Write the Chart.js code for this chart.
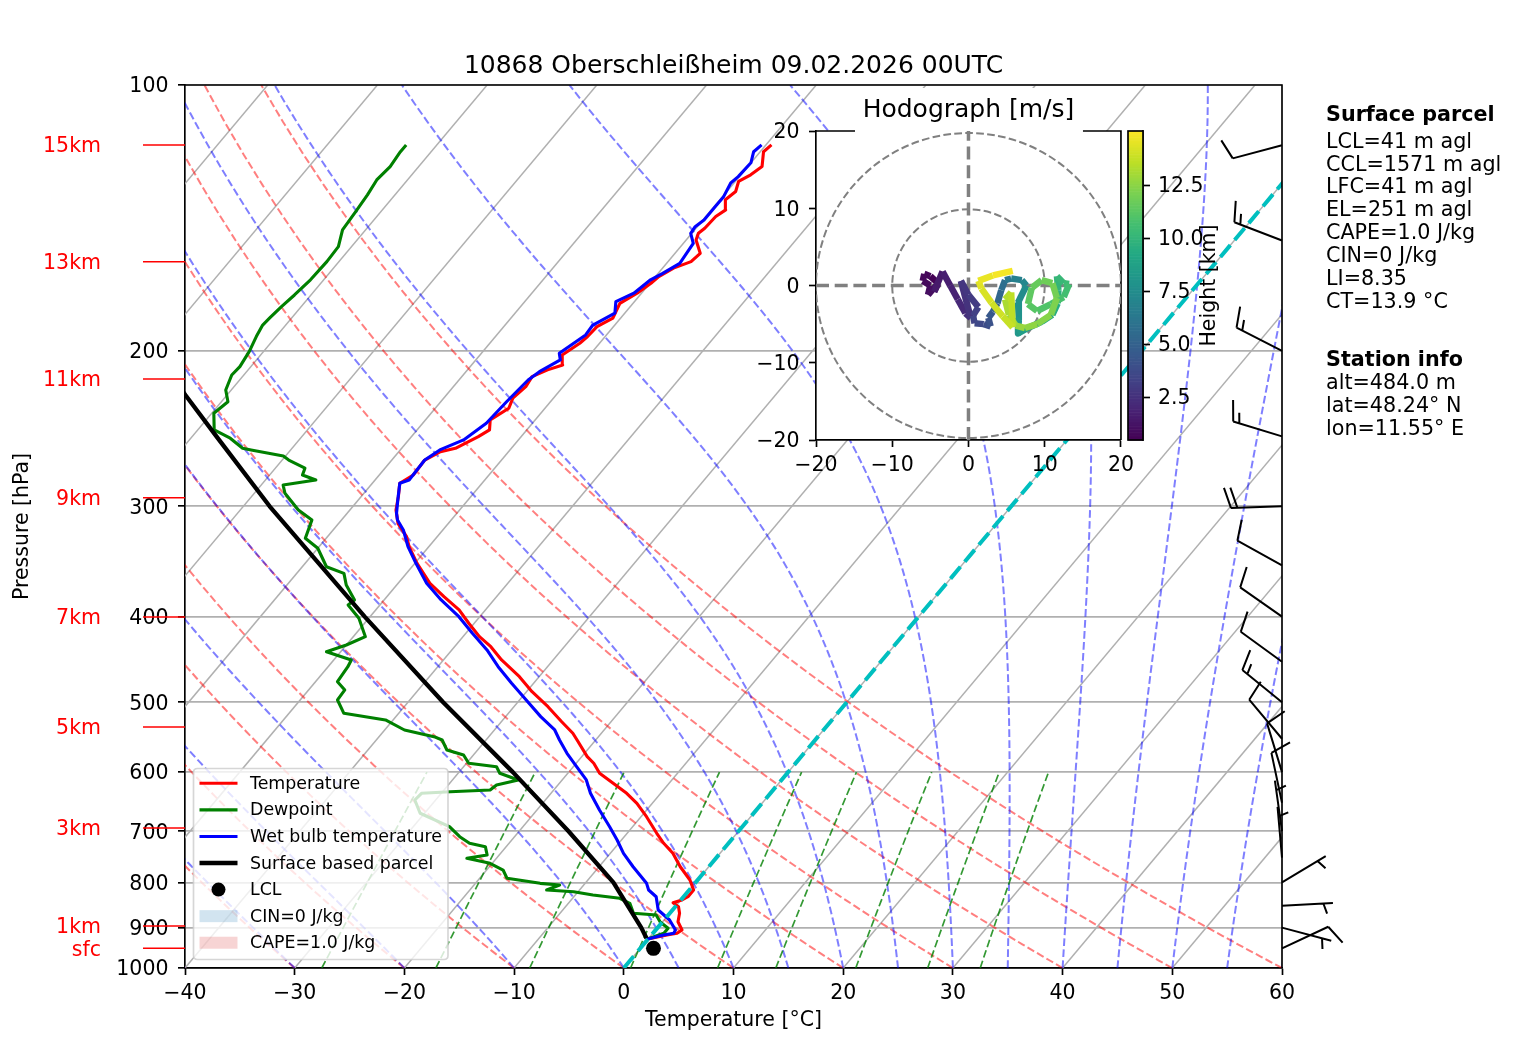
<!DOCTYPE html>
<html>
<head>
<meta charset="utf-8">
<script src="https://cdn.jsdelivr.net/npm/chart.js@4.4.1/dist/chart.umd.min.js"></script>
<style>
html,body{margin:0;padding:0;background:#fff;}
#wrap{position:relative;width:1517px;height:1054px;overflow:hidden;background:#fff;}
canvas{position:absolute;}
.info{position:absolute;left:1326px;font-family:'DejaVu Sans';font-size:20.7px;line-height:22.86px;color:#000;white-space:pre;}
.info.b{font-weight:bold;}
</style>
</head>
<body>
<div id="wrap">
<canvas id="main" width="1517" height="1054" style="left:0;top:0"></canvas>
<canvas id="hodo" width="400" height="420" style="left:740px;top:80px"></canvas>
<canvas id="cbar" width="160" height="420" style="left:1100px;top:80px"></canvas>
<div class="info b" style="top:103px">Surface parcel</div>
<div class="info" style="top:129.7px">LCL=41 m agl
CCL=1571 m agl
LFC=41 m agl
EL=251 m agl
CAPE=1.0 J/kg
CIN=0 J/kg
LI=8.35
CT=13.9 °C</div>
<div class="info b" style="top:348px">Station info</div>
<div class="info" style="top:371.4px">alt=484.0 m
lat=48.24° N
lon=11.55° E</div>
</div>
<script>
// ---------------- data ----------------
const chartTitle = '10868 Oberschleißheim 09.02.2026 00UTC';
const hodoTitle = 'Hodograph [m/s]';

const tempP = [927.9,917.5,913.5,905.6,886.3,867.1,852.3,843.5,837.5,830.4,816.0,795.0,767.9,741.5,722.4,703.8,674.0,650.9,634.1,617.7,601.8,586.3,576.3,551.8,542.2,526.1,505.9,486.5,467.8,447.9,432.6,421.5,407.0,393.1,379.7,366.7,348.1,333.3,324.7,313.6,302.9,292.6,282.5,276.5,265.9,260.2,257.9,250.2,245.8,239.5,232.3,226.3,219.6,213.9,210.2,207.5,202.2,196.1,192.7,187.8,183.7,176.7,172.1,167.7,164.8,161.2,158.5,155.1,149.8,147.2,145.3,140.9,138.5,134.9,132.0,128.6,126.4,123.7,119.0,116.9];
const tempC = [-0.1,1.4,2.2,2.4,1.4,0.9,0.3,-0.5,0.1,0.4,0.4,-0.7,-2.6,-4.3,-5.9,-7.3,-9.5,-11.4,-13.1,-15.1,-17.1,-18.4,-19.5,-21.7,-22.6,-24.5,-26.9,-29.5,-31.8,-34.7,-36.7,-38.5,-40.5,-42.4,-44.8,-47.1,-49.8,-51.8,-52.8,-54.6,-55.8,-56.6,-57.5,-56.9,-57.0,-56.2,-55.1,-53.9,-53.4,-54.1,-53.3,-53.7,-53.4,-53.6,-52.7,-51.7,-52.5,-51.8,-51.6,-51.5,-50.7,-51.2,-50.4,-49.9,-49.7,-49.0,-47.9,-47.7,-49.1,-49.4,-49.2,-49.1,-48.7,-49.5,-49.2,-49.7,-49.1,-48.7,-49.7,-49.5];

const wetbulbP = [927.9,917.5,913.5,905.6,882.3,859.6,830.4,816.0,801.9,767.9,741.5,716.2,691.8,662.4,634.1,612.4,591.6,571.3,551.8,537.6,519.2,497.1,476.0,455.8,436.3,417.8,400.1,383.0,366.7,348.1,333.3,319.1,310.9,305.5,295.1,282.5,280.1,265.9,259.0,252.3,241.6,228.4,215.8,211.2,204.8,201.3,191.9,187.0,181.3,175.9,172.1,166.2,163.4,159.2,151.1,147.2,144.7,142.2,137.3,133.8,129.1,127.0,122.5,119.0,116.9];
const wetbulbC = [-0.1,1.1,1.9,1.8,0.5,-1.3,-2.5,-3.7,-4.4,-6.9,-8.8,-10.4,-12.1,-14.3,-16.4,-17.8,-19.7,-21.6,-23.3,-24.5,-26.8,-29.4,-32.0,-34.5,-36.8,-39.4,-41.9,-44.8,-47.4,-49.9,-51.9,-53.6,-54.9,-55.5,-56.4,-57.5,-56.9,-57.0,-56.4,-55.0,-54.2,-54.0,-53.7,-53.3,-52.3,-52.9,-51.9,-52.0,-50.9,-51.7,-50.7,-50.2,-49.6,-48.8,-49.1,-50.1,-50.2,-49.9,-49.9,-49.9,-50.3,-50.1,-50.0,-50.6,-50.4];

const dewP = [927.9,913.5,901.6,887.0,871.0,867.1,844.7,833.8,826.7,819.6,816.0,805.3,801.9,791.5,774.5,761.1,751.2,744.8,728.8,722.4,710.1,691.8,668.0,645.3,634.1,631.5,628.7,620.5,612.4,601.8,591.6,586.3,573.8,566.4,551.8,547.0,537.6,523.7,514.7,497.1,484.3,474.0,455.8,447.9,438.3,430.7,421.5,401.7,388.0,383.0,368.3,357.3,351.2,334.7,326.1,310.9,302.9,290.0,283.8,280.1,276.5,271.6,265.9,263.1,259.0,257.9,251.2,245.8,235.4,228.4,221.5,213.0,208.4,200.4,192.7,187.0,183.7,178.2,172.9,166.2,158.5,152.4,145.9,139.1,133.2,128.1,123.7,119.0,116.9];
const dewC = [-0.1,1.0,1.0,-0.2,-1.1,-3.3,-4.4,-5.7,-8.4,-10.4,-13.0,-12.2,-14.1,-17.5,-18.5,-20.2,-22.7,-21.1,-21.9,-23.6,-25.0,-26.7,-30.4,-31.9,-31.8,-29.3,-25.8,-25.6,-24.0,-26.2,-27.0,-29.8,-30.9,-32.8,-34.0,-35.0,-38.2,-40.7,-45.0,-46.6,-46.7,-48.0,-48.2,-48.4,-51.3,-50.0,-48.9,-50.9,-52.9,-52.7,-54.6,-55.7,-57.8,-60.0,-61.9,-62.7,-64.7,-67.2,-68.0,-65.4,-67.0,-67.3,-69.4,-70.2,-73.6,-74.5,-76.4,-78.5,-79.8,-79.4,-80.5,-81.1,-81.0,-81.3,-81.8,-82.1,-82.0,-81.8,-81.5,-81.2,-81.1,-81.2,-82.1,-82.3,-82.5,-82.8,-82.6,-82.8,-82.8];

const parcelP = [925.5,900,800,700,600,500,400,300,250,224.4,200];
const parcelC = [-0.2,-1.5,-7.5,-15.5,-25.1,-36.8,-50.5,-67.6,-77.8,-83.8,-90.0];

const lclP = [950.0];
const lclC = [1.2];

const windP   = [117,150,200,250,300,350,400,450,500,550,600,650,700,750,800,850,900,950];
const windDir = [255,291,297,287,268,299,305,306,309,320,343,348,352,355,59,87,105,65];
const windKt  = [10,15,15,15,20,10,10,10,15,10,10,10,5,5,5,5,5,10];

const hgtLabels = ['15km','13km','11km','9km','7km','5km','3km','1km','sfc'];
const hgtLabelP = [116.9,158.5,215.2,293.3,400.4,533.4,694.1,896.2,950.0];

const hodoH = [0.48,0.6,0.7,0.8,0.9,1.0,1.1,1.2,1.4,1.6,1.8,2.0,2.3,2.5,2.7,2.9,3.1,3.3,3.5,3.8,4.0,4.3,4.6,5.0,5.5,6.0,6.5,7.0,7.3,7.6,8.0,8.3,8.6,9.0,9.3,9.6,9.9,10.1,10.3,10.5,10.7,10.9,11.1,11.3,11.5,11.7,11.9,12.1,12.3,12.5,12.7,12.9,13.1,13.3,13.5,13.7,13.9,14.1,14.3,14.5,14.7,15.05];
const hodoU = [-4.0,-5.0,-5.8,-6.0,-5.0,-5.3,-4.6,-4.0,-4.5,-3.4,-2.4,-1.4,-0.4,0.3,-1.0,0.0,1.3,0.6,0.8,2.0,2.9,2.6,3.2,3.8,4.3,4.8,5.6,7.0,7.6,6.5,6.6,6.5,8.0,9.6,11.0,11.7,11.8,11.6,12.5,13.2,12.5,10.8,9.0,7.8,8.3,9.6,11.0,11.6,10.8,9.0,7.4,6.2,5.3,4.8,5.6,5.8,4.5,3.0,1.7,1.3,3.2,5.8];
const hodoV = [0.3,1.2,1.5,0.6,0.0,-1.2,-0.4,0.2,-0.8,1.8,0.0,-1.8,-3.6,-4.2,0.6,-1.2,-2.8,-3.9,-4.9,-5.0,-5.3,-4.2,-3.4,-2.3,-0.6,0.7,0.9,0.7,0.0,-2.2,-4.5,-6.2,-5.4,-4.7,-3.8,-2.3,-0.6,1.2,0.3,0.2,-1.5,-2.4,-3.3,-2.4,-0.3,0.7,0.3,-1.6,-3.8,-5.0,-5.5,-5.2,-3.8,-1.8,-0.9,-5.4,-4.0,-2.2,-0.4,0.6,1.3,1.9];

const pressureTicks = [100,200,300,400,500,600,700,800,900,1000];
const isotherms = [-100,-90,-80,-70,-60,-50,-40,-30,-20,-10,0,10,20,30,40,50,60];
const dryT0 = [-40,-30,-20,-10,0,10,20,30,40,50,60];
const moistT0 = [-40,-30,-20,-10,0,5,10,15,20,25,30,35,40,45,50,55,60];
const mixingW = [0.0004,0.001,0.002,0.004,0.007,0.01,0.016,0.024,0.032];
const hodoTicks = [-20,-10,0,10,20];
const cbTicks = [2.5,5,7.5,10,12.5];

// ---------------- helpers ----------------
Chart.defaults.font.family = "'DejaVu Sans'";
Chart.defaults.color = '#000';
const K = Math.tan(40*Math.PI/180) * 883 / (1097/100); // skew (degC per pressure decade)
const sx = (T,p) => T + K*Math.log10(1000/p);
const fmtMinus = v => (v < 0 ? '\u2212' + Math.abs(v) : String(v));

const Rd=287.04749, Cpd=1004.6662, Lv=2.50084e6, EPS=0.6219569;
function satMR(p,T){ const es=6.112*Math.exp(17.67*(T-273.15)/(T-29.65)); return EPS*es/(p-es); }
function dTdp(p,T){ const rs=satMR(p,T); return (Rd*T+Lv*rs)/(Cpd+(Lv*Lv*rs*EPS/(Rd*T*T)))/p; }
function moistLine(t0){
  let T=t0+273.15, p=1000; const pts=[[t0,1000]]; const dp=-5;
  while(p>100.001){
    const k1=dTdp(p,T), k2=dTdp(p+dp/2,T+dp/2*k1), k3=dTdp(p+dp/2,T+dp/2*k2), k4=dTdp(p+dp,T+dp*k3);
    T+=dp/6*(k1+2*k2+2*k3+k4); p+=dp; pts.push([T-273.15,p]);
  }
  return pts;
}
function dryLine(t0){ const pts=[]; for(let p=1000;p>=100;p-=10) pts.push([(t0+273.15)*Math.pow(p/1000,0.28571)-273.15,p]); return pts; }
function mixLine(w){ const pts=[]; for(let p=1000;p>=600;p-=20){ const e=p*w/(EPS+w); const l=Math.log(e/6.112); pts.push([243.5*l/(17.67-l),p]); } return pts; }

const VIR=['#440154','#482475','#414487','#355f8d','#2a788e','#21918c','#22a884','#44bf70','#7ad151','#bddf26','#fde725'];
function hex2rgb(h){ return [parseInt(h.slice(1,3),16),parseInt(h.slice(3,5),16),parseInt(h.slice(5,7),16)]; }
function viridis(t){
  t=Math.max(0,Math.min(1,t)); const f=t*10, i=Math.min(9,Math.floor(f)), r=f-i;
  const a=hex2rgb(VIR[i]), b=hex2rgb(VIR[i+1]);
  return 'rgb('+a.map((c,k)=>Math.round(c+(b[k]-c)*r)).join(',')+')';
}
const hMin = Math.min(...hodoH), hMax = Math.max(...hodoH);

function strokeTP(ctx, sc, pts){
  ctx.beginPath();
  pts.forEach(([T,p],i)=>{ const X=sc.x.getPixelForValue(sx(T,p)), Y=sc.y.getPixelForValue(p); if(i) ctx.lineTo(X,Y); else ctx.moveTo(X,Y); });
  ctx.stroke();
}
function drawBarb(ctx,x0,y0,dir,spd){
  const L=51, H=0.4*L, W=0.25*L, S=0.125*L;
  const r=dir*Math.PI/180, dx=Math.sin(r), dy=-Math.cos(r), px=Math.cos(r), py=Math.sin(r);
  const tx=x0+dx*L, ty=y0+dy*L;
  ctx.beginPath(); ctx.moveTo(x0,y0); ctx.lineTo(tx,ty);
  let s=Math.round(spd/5)*5; const nf=Math.floor(s/50); s-=nf*50; const nb=Math.floor(s/10); s-=nb*10; const half=s>=5;
  let off=0;
  for(let i=0;i<nb;i++){ const bx=tx-dx*off, by=ty-dy*off; ctx.moveTo(bx,by); ctx.lineTo(bx+px*H+dx*W/2, by+py*H+dy*W/2); off+=S; }
  if(half){ if(off===0) off=1.5*S; const bx=tx-dx*off, by=ty-dy*off; ctx.moveTo(bx,by); ctx.lineTo(bx+px*H/2+dx*W/4, by+py*H/2+dy*W/4); }
  ctx.stroke();
}

// ---------------- main skew-T ----------------
const profile = (P,C) => P.map((p,i)=>({x:sx(C[i],p), y:p}));
const baseDs = {pointRadius:0, borderWidth:3.1, tension:0, fill:false, clip:0, borderJoinStyle:'round', borderCapStyle:'butt'};
const datasets = [
  Object.assign({}, baseDs, {label:'Temperature', data:profile(tempP,tempC), borderColor:'#ff0000', order:-1}),
  Object.assign({}, baseDs, {label:'Dewpoint', data:profile(dewP,dewC), borderColor:'#008000', order:-2}),
  Object.assign({}, baseDs, {label:'Wet bulb temperature', data:profile(wetbulbP,wetbulbC), borderColor:'#0000ff', order:-3}),
  Object.assign({}, baseDs, {label:'Surface based parcel', data:profile(parcelP,parcelC), borderColor:'#000000', borderWidth:4.3, order:-4}),
  {label:'LCL', data:profile(lclP,lclC), showLine:false, pointRadius:7.5, pointBackgroundColor:'#000', pointBorderWidth:0, borderColor:'#000', order:-5}
];

const legendItems = [
  {t:'Temperature', k:'line', c:'#ff0000', w:3.1},
  {t:'Dewpoint', k:'line', c:'#008000', w:3.1},
  {t:'Wet bulb temperature', k:'line', c:'#0000ff', w:3.1},
  {t:'Surface based parcel', k:'line', c:'#000000', w:4.3},
  {t:'LCL', k:'dot', c:'#000000'},
  {t:'CIN=0 J/kg', k:'patch', c:'rgba(31,119,180,0.2)'},
  {t:'CAPE=1.0 J/kg', k:'patch', c:'rgba(214,39,40,0.2)'}
];

const skewPlugin = {
  id:'skew',
  beforeDatasetsDraw(chart){
    const {ctx, chartArea:a, scales} = chart;
    ctx.save();
    ctx.beginPath(); ctx.rect(a.left,a.top,a.right-a.left,a.bottom-a.top); ctx.clip();
    ctx.lineCap='butt';
    ctx.strokeStyle='#b0b0b0'; ctx.lineWidth=1.5; ctx.setLineDash([]);
    isotherms.forEach(T=>strokeTP(ctx,scales,[[T,1000],[T,100]]));
    ctx.lineWidth=2; ctx.setLineDash([7.7,3.3]);
    ctx.strokeStyle='rgba(255,0,0,0.5)';
    dryT0.forEach(t=>strokeTP(ctx,scales,dryLine(t)));
    ctx.strokeStyle='rgba(0,0,255,0.5)';
    moistT0.forEach(t=>strokeTP(ctx,scales,moistLine(t)));
    ctx.strokeStyle='rgba(0,128,0,0.8)'; ctx.lineWidth=1.7;
    mixingW.forEach(w=>strokeTP(ctx,scales,mixLine(w)));
    ctx.restore();
  },
  afterDatasetsDraw(chart){
    const {ctx, chartArea:a, scales} = chart;
    // 0 degC isotherm
    ctx.save();
    ctx.beginPath(); ctx.rect(a.left,a.top,a.right-a.left,a.bottom-a.top); ctx.clip();
    ctx.strokeStyle='#00bfbf'; ctx.lineWidth=4; ctx.setLineDash([15.4,6.7]);
    strokeTP(ctx,scales,[[0,1000],[0,100]]);
    ctx.restore();
    ctx.save();
    // title
    ctx.font="25px 'DejaVu Sans'"; ctx.fillStyle='#000'; ctx.textAlign='center'; ctx.textBaseline='middle';
    ctx.fillText(chartTitle, (a.left+a.right)/2, 66);
    // frame
    ctx.strokeStyle='#000'; ctx.lineWidth=1.67; ctx.setLineDash([]);
    ctx.beginPath(); ctx.moveTo(a.left,a.top); ctx.lineTo(a.right,a.top); ctx.lineTo(a.right,a.bottom); ctx.stroke();
    // wind barbs
    ctx.lineWidth=2; ctx.lineCap='butt'; ctx.lineJoin='miter';
    windP.forEach((p,i)=>drawBarb(ctx, a.right, scales.y.getPixelForValue(p), windDir[i], windKt[i]));
    // height labels
    ctx.strokeStyle='#ff0000'; ctx.fillStyle='#ff0000'; ctx.lineWidth=1.5;
    ctx.font="20.5px 'DejaVu Sans'"; ctx.textAlign='right'; ctx.textBaseline='middle';
    hgtLabels.forEach((t,i)=>{
      const yy=scales.y.getPixelForValue(hgtLabelP[i]);
      ctx.beginPath(); ctx.moveTo(a.left-42,yy); ctx.lineTo(a.left,yy); ctx.stroke();
      ctx.fillText(t, a.left-84, yy+2);
    });
    // legend
    const lx=a.left+8.5, ly=768.5, lw=254.5, lh=191, rr=4;
    ctx.beginPath();
    ctx.moveTo(lx+rr,ly); ctx.lineTo(lx+lw-rr,ly); ctx.quadraticCurveTo(lx+lw,ly,lx+lw,ly+rr);
    ctx.lineTo(lx+lw,ly+lh-rr); ctx.quadraticCurveTo(lx+lw,ly+lh,lx+lw-rr,ly+lh);
    ctx.lineTo(lx+rr,ly+lh); ctx.quadraticCurveTo(lx,ly+lh,lx,ly+lh-rr);
    ctx.lineTo(lx,ly+rr); ctx.quadraticCurveTo(lx,ly,lx+rr,ly); ctx.closePath();
    ctx.fillStyle='rgba(255,255,255,0.8)'; ctx.fill();
    ctx.strokeStyle='rgba(204,204,204,0.8)'; ctx.lineWidth=1.67; ctx.stroke();
    ctx.font="17.4px 'DejaVu Sans'"; ctx.textAlign='left'; ctx.textBaseline='middle';
    legendItems.forEach((it,i)=>{
      const yy=783.3+i*26.57, x1=lx+6, x2=lx+44;
      if(it.k==='line'){ ctx.strokeStyle=it.c; ctx.lineWidth=it.w; ctx.beginPath(); ctx.moveTo(x1,yy); ctx.lineTo(x2,yy); ctx.stroke(); }
      else if(it.k==='dot'){ ctx.fillStyle=it.c; ctx.beginPath(); ctx.arc((x1+x2)/2,yy,7,0,2*Math.PI); ctx.fill(); }
      else { ctx.fillStyle=it.c; ctx.fillRect(x1,yy-6,x2-x1,12); }
      ctx.fillStyle='#000'; ctx.fillText(it.t, lx+56.5, yy+1);
    });
    ctx.restore();
  }
};

new Chart(document.getElementById('main'), {
  type:'line',
  data:{datasets},
  options:{
    responsive:false, animation:false, devicePixelRatio:1,
    layout:{padding:{left:0,right:235,top:85,bottom:0}},
    plugins:{ legend:{display:false}, tooltip:{enabled:false}, title:{display:false} },
    scales:{
      x:{type:'linear', min:-40, max:60,
         ticks:{stepSize:10, autoSkip:false, maxRotation:0, font:{size:20.5}, color:'#000', padding:6, callback:v=>fmtMinus(v)},
         grid:{drawOnChartArea:false, drawTicks:true, tickLength:7, tickColor:'#000', tickWidth:1.67},
         border:{color:'#000', width:1.67},
         title:{display:true, text:'Temperature [°C]', font:{size:20.5}, color:'#000', padding:{top:0,bottom:21}},
         afterFit:s=>{s.height=86;}},
      y:{type:'logarithmic', reverse:true, min:100, max:1000,
         afterBuildTicks:s=>{s.ticks=pressureTicks.map(v=>({value:v}));},
         ticks:{autoSkip:false, font:{size:20.5}, color:'#000', padding:9.5, labelOffset:2, callback:v=>String(v)},
         grid:{color:'#b0b0b0', lineWidth:1.67, tickColor:'#000', tickLength:7, tickWidth:1.67},
         border:{color:'#000', width:1.67},
         title:{display:true, text:'Pressure [hPa]', font:{size:20.5}, color:'#000', padding:{top:10,bottom:0}},
         afterFit:s=>{s.width=185;}}
    }
  },
  plugins:[skewPlugin]
});

// ---------------- hodograph ----------------
const hodoPlugin = {
  id:'hodoBg',
  beforeDraw(chart){
    const {ctx, chartArea:a} = chart;
    ctx.save();
    ctx.fillStyle='#fff'; ctx.fillRect(a.left,a.top,a.right-a.left,a.bottom-a.top);
    ctx.strokeStyle='#000'; ctx.lineWidth=1.67;
    ctx.beginPath(); ctx.moveTo(a.left,a.top); ctx.lineTo(a.right,a.top); ctx.lineTo(a.right,a.bottom); ctx.stroke();
    ctx.fillStyle='#fff'; ctx.fillRect(a.left+39, 8, (a.right-a.left)-77, a.top+2-8);
    ctx.font="25px 'DejaVu Sans'"; ctx.fillStyle='#000'; ctx.textAlign='center'; ctx.textBaseline='middle';
    ctx.fillText(hodoTitle, (a.left+a.right)/2, a.top-21);
    ctx.restore();
  },
  beforeDatasetsDraw(chart){
    const {ctx, chartArea:a, scales:{x,y}} = chart;
    ctx.save();
    ctx.beginPath(); ctx.rect(a.left,a.top,a.right-a.left,a.bottom-a.top); ctx.clip();
    const cx=x.getPixelForValue(0), cy=y.getPixelForValue(0);
    ctx.strokeStyle='#808080'; ctx.lineWidth=2; ctx.setLineDash([7.7,3.3]);
    [10,20].forEach(r=>{ const R=x.getPixelForValue(r)-cx; ctx.beginPath(); ctx.arc(cx,cy,R,0,2*Math.PI); ctx.stroke(); });
    ctx.lineWidth=3.5; ctx.setLineDash([13,5.7]);
    ctx.beginPath(); ctx.moveTo(x.getPixelForValue(-20),cy); ctx.lineTo(x.getPixelForValue(20),cy); ctx.stroke();
    ctx.beginPath(); ctx.moveTo(cx,y.getPixelForValue(-20)); ctx.lineTo(cx,y.getPixelForValue(20)); ctx.stroke();
    ctx.restore();
  }
};
new Chart(document.getElementById('hodo'), {
  type:'line',
  data:{datasets:[{
    label:'Hodograph', data:hodoU.map((u,i)=>({x:u,y:hodoV[i]})),
    pointRadius:0, borderWidth:6.5, tension:0, fill:false, borderCapStyle:'butt', borderJoinStyle:'round',
    borderColor:viridis(0),
    segment:{borderColor:c=>viridis(((hodoH[c.p0DataIndex]+hodoH[c.p1DataIndex])/2-hMin)/(hMax-hMin))}
  }]},
  options:{
    responsive:false, animation:false, devicePixelRatio:1,
    layout:{padding:{left:0,right:15,top:51,bottom:0}},
    plugins:{legend:{display:false}, tooltip:{enabled:false}, title:{display:false}},
    scales:{
      x:{type:'linear', min:-20, max:20,
         afterBuildTicks:s=>{s.ticks=hodoTicks.map(v=>({value:v}));},
         ticks:{autoSkip:false, maxRotation:0, font:{size:20.5}, color:'#000', padding:6, callback:v=>fmtMinus(v)},
         grid:{drawOnChartArea:false, tickLength:7, tickColor:'#000', tickWidth:1.67},
         border:{color:'#000', width:1.67}, afterFit:s=>{s.height=60;}},
      y:{type:'linear', min:-20, max:20,
         afterBuildTicks:s=>{s.ticks=hodoTicks.map(v=>({value:v}));},
         ticks:{autoSkip:false, font:{size:20.5}, color:'#000', padding:9.5, labelOffset:2, callback:v=>fmtMinus(v)},
         grid:{drawOnChartArea:false, tickLength:7, tickColor:'#000', tickWidth:1.67},
         border:{color:'#000', width:1.67}, afterFit:s=>{s.width=76;}}
    }
  },
  plugins:[hodoPlugin]
});

// ---------------- colorbar ----------------
const cbPlugin = {
  id:'cbar',
  beforeDatasetsDraw(chart){
    const {ctx, chartArea:a, scales:{y}} = chart;
    ctx.save();
    const n=200;
    for(let i=0;i<n;i++){
      const h0=hMin+(hMax-hMin)*i/n, h1=hMin+(hMax-hMin)*(i+1)/n;
      const y0=y.getPixelForValue(h0), y1=y.getPixelForValue(h1);
      ctx.fillStyle=viridis(((h0+h1)/2-hMin)/(hMax-hMin));
      ctx.fillRect(a.left, y1, a.right-a.left, y0-y1+0.6);
    }
    ctx.strokeStyle='#000'; ctx.lineWidth=1.67;
    ctx.strokeRect(a.left,a.top,a.right-a.left,a.bottom-a.top);
    ctx.restore();
  },
  afterDraw(chart){
    const {ctx, chartArea:a} = chart;
    ctx.save();
    ctx.translate(110, (a.top+a.bottom)/2); ctx.rotate(-Math.PI/2);
    ctx.font="20.5px 'DejaVu Sans'"; ctx.fillStyle='#000'; ctx.textAlign='center'; ctx.textBaseline='middle';
    ctx.fillText('Height [km]',0,0);
    ctx.restore();
  }
};
new Chart(document.getElementById('cbar'), {
  type:'line',
  data:{datasets:[{data:[]}]},
  options:{
    responsive:false, animation:false, devicePixelRatio:1,
    layout:{padding:{left:28,right:0,top:51,bottom:60}},
    plugins:{legend:{display:false}, tooltip:{enabled:false}},
    scales:{
      x:{type:'linear', display:false, min:0, max:1},
      y:{type:'linear', position:'right', min:hMin, max:hMax,
         afterBuildTicks:s=>{s.ticks=cbTicks.map(v=>({value:v}));},
         ticks:{autoSkip:false, font:{size:20.5}, color:'#000', padding:8, labelOffset:2, callback:v=>v.toFixed(1)},
         grid:{drawOnChartArea:false, tickLength:7, tickColor:'#000', tickWidth:1.67},
         border:{color:'#000', width:1.67}, afterFit:s=>{s.width=117;}}
    }
  },
  plugins:[cbPlugin]
});
</script>
</body>
</html>
